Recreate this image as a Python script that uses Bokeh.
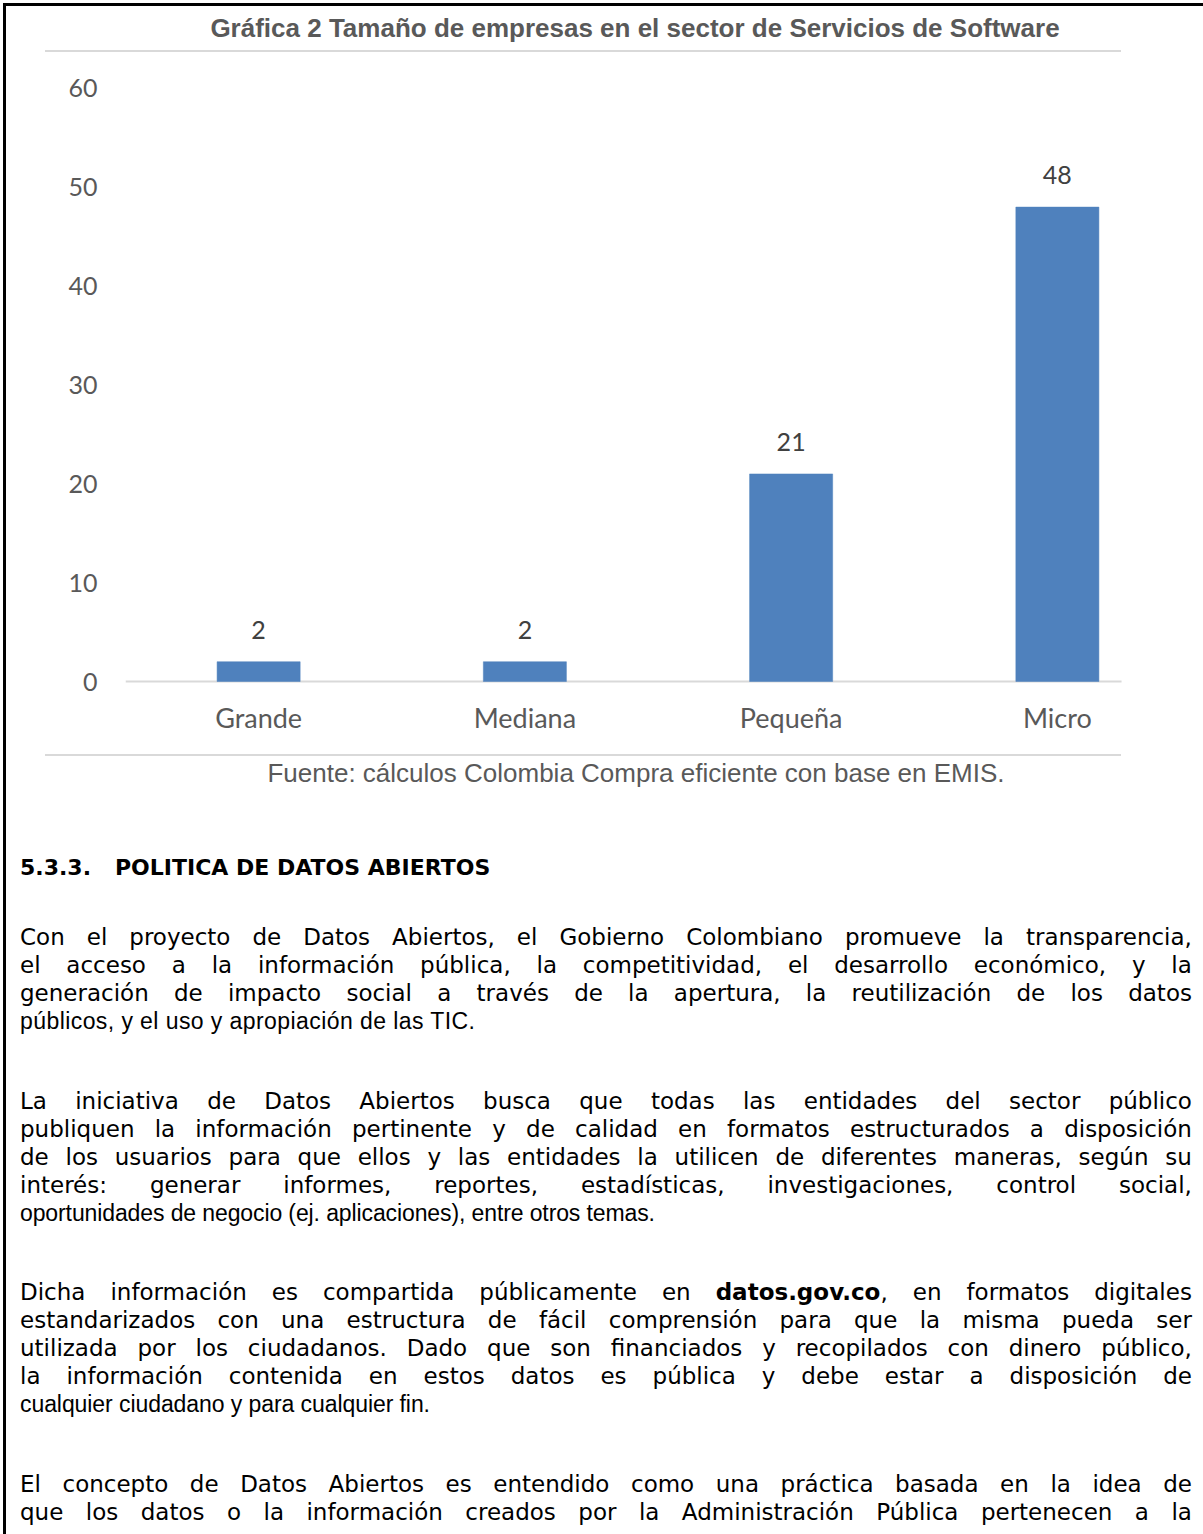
from bokeh.plotting import figure
from bokeh.models import Div, FactorRange, Range1d, FixedTicker, ColumnDataSource
from bokeh.layouts import column
from bokeh.embed import file_html
from bokeh.resources import INLINE
from bokeh.core.properties import value

# ---------------- data ----------------
categories = ["Grande", "Mediana", "Pequeña", "Micro"]
counts = [2, 2, 21, 48]
count_labels = ["2", "2", "21", "48"]
y_ticks = [0, 10, 20, 30, 40, 50, 60]

title_text = "Gráfica 2 Tamaño de empresas en el sector de Servicios de Software"
source_text = "Fuente: cálculos Colombia Compra eficiente con base en EMIS."
heading_num = "5.3.3."
heading_text = "POLITICA DE DATOS ABIERTOS"

para1 = [
    "Con el proyecto de Datos Abiertos, el Gobierno Colombiano promueve la transparencia,",
    "el acceso a la información pública, la competitividad, el desarrollo económico, y la",
    "generación de impacto social a través de la apertura, la reutilización de los datos",
    "públicos, y el uso y apropiación de las TIC.",
]
para2 = [
    "La iniciativa de Datos Abiertos busca que todas las entidades del sector público",
    "publiquen la información pertinente y de calidad en formatos estructurados a disposición",
    "de los usuarios para que ellos y las entidades la utilicen de diferentes maneras, según su",
    "interés: generar informes, reportes, estadísticas, investigaciones, control social,",
    "oportunidades de negocio (ej. aplicaciones), entre otros temas.",
]
para3 = [
    "Dicha información es compartida públicamente en datos.gov.co, en formatos digitales",
    "estandarizados con una estructura de fácil comprensión para que la misma pueda ser",
    "utilizada por los ciudadanos. Dado que son financiados y recopilados con dinero público,",
    "la información contenida en estos datos es pública y debe estar a disposición de",
    "cualquier ciudadano y para cualquier fin.",
]
para4 = [
    "El concepto de Datos Abiertos es entendido como una práctica basada en la idea de",
    "que los datos o la información creados por la Administración Pública pertenecen a la",
]
paragraphs = [para1, para2, para3, para4]
para_continues = [False, False, False, True]   # last paragraph runs past the page edge
bold_words = ["datos.gov.co"]

# ---------------- layout constants (pixels) ----------------
PAGE_W = 1200
TITLE_H = 60
FIG_H = 685
BOTTOM_H = 787
BODY_FONT = "DejaVu Sans"
BODY_SIZE = 23
LINE_H = 28
PARA_GAP = 79.5
TEXT_LEFT = 20
TEXT_W = 1172
LAST_LINE_PX = [455, 635, 410, None]   # rendered width of each paragraph's closing line

# ---------------- title block ----------------
title_div = Div(
    text=f"""
<div style="position:relative;width:{PAGE_W}px;height:{TITLE_H}px;">
  <div style="position:absolute;left:135px;width:1000px;top:13px;line-height:30px;text-align:center;font-family:'Liberation Sans';font-weight:bold;font-size:26px;color:#595959;white-space:nowrap;">{title_text}</div>
  <div style="position:absolute;left:45px;top:50px;width:1076px;height:2px;background:#D9D9D9;"></div>
</div>""",
    width=PAGE_W, height=TITLE_H, margin=0,
)

# ---------------- chart ----------------
src = ColumnDataSource(dict(cat=categories, val=counts, lab=count_labels))

p = figure(
    x_range=FactorRange(*categories),
    y_range=Range1d(-1.0118, 61.821),
    width=1190, height=FIG_H,
    min_border_left=125, min_border_right=0, min_border_top=10, min_border_bottom=54,
    output_backend="svg", toolbar_location=None, margin=0,
)
p.outline_line_color = None
p.xgrid.visible = False
p.ygrid.visible = False
p.background_fill_color = None
p.border_fill_color = None

# light-grey category baseline (from the plot's left edge to a little past the last bar)
p.segment(x0=[(categories[0], -0.5)], x1=[(categories[-1], 0.241)], y0=[0], y1=[0],
          line_color="#D9D9D9", line_width=2)

p.vbar(x="cat", top="val", bottom=0, width=0.312, source=src,
       fill_color="#4F81BD", line_color="#4F81BD", line_width=0.5)

p.text(x="cat", y="val", text="lab", source=src, y_offset=-32,
       text_font=value("Lato"), text_font_size="25px", text_color="#404040",
       text_align="center", text_baseline="middle")

for ax in (p.xaxis[0], p.yaxis[0]):
    ax.axis_line_color = None
    ax.major_tick_line_color = None
    ax.minor_tick_line_color = None
    ax.major_label_text_font = "Lato"
    ax.major_label_text_color = "#595959"
p.yaxis.major_label_text_font_size = "25px"
p.xaxis.major_label_text_font_size = "27px"
p.yaxis.ticker = FixedTicker(ticks=y_ticks)
p.yaxis.major_label_standoff = 22
p.xaxis.major_label_standoff = 3

# ---------------- text block below chart ----------------
def word_html(w):
    for b in bold_words:
        if w.startswith(b):
            return f"<b>{b}</b>{w[len(b):]}"
    return w

OFF = TITLE_H + FIG_H  # page y at top of this block
parts = []
# page border (drawn last so it sits over the chart)
parts.append('<div style="position:fixed;left:3px;top:3px;width:3000px;height:3000px;'
             'border-left:3px solid #000;border-top:3px solid #000;z-index:10;pointer-events:none;"></div>')
parts.append(f'<div style="position:absolute;left:45px;top:{754-OFF}px;width:1076px;height:2px;background:#D9D9D9;"></div>')
parts.append(f'<div style="position:absolute;left:136px;width:1000px;top:{773-OFF-15}px;line-height:30px;text-align:center;'
             f'font-family:\'Liberation Sans\';font-size:26px;color:#595959;white-space:nowrap;">{source_text}</div>')
hc = 868 - OFF
for txt, xl in ((heading_num, TEXT_LEFT), (heading_text, 115)):
    parts.append(f'<div style="position:absolute;left:{xl}px;top:{hc-15}px;line-height:30px;font-family:\'{BODY_FONT}\';'
                 f'font-weight:bold;font-size:22px;color:#000;white-space:nowrap;">{txt}</div>')

y = 937 - OFF
for para, cont, lastw in zip(paragraphs, para_continues, LAST_LINE_PX):
    for i, line in enumerate(para):
        words = line.split(" ")
        last = (i == len(para) - 1) and not cont
        if last:
            base = y + 7.9
            parts.append(
                f'<svg width="{TEXT_W}" height="{LINE_H}" style="position:absolute;left:{TEXT_LEFT}px;top:{y-LINE_H/2}px;overflow:visible;">'
                f'<text x="0" y="{LINE_H/2+7.9}" textLength="{lastw}" lengthAdjust="spacing" '
                f'font-family="{BODY_FONT}" font-size="{BODY_SIZE}" fill="#000">{line}</text></svg>')
        else:
            style = (f"position:absolute;left:{TEXT_LEFT}px;width:{TEXT_W}px;top:{y - LINE_H/2}px;height:{LINE_H}px;"
                     f"line-height:{LINE_H}px;font-family:'{BODY_FONT}';font-size:{BODY_SIZE}px;color:#000;white-space:nowrap;"
                     "display:flex;justify-content:space-between;")
            inner = "".join(f"<span>{word_html(w)}</span>" for w in words)
            parts.append(f'<div style="{style}">{inner}</div>')
        y += LINE_H
    y += PARA_GAP - LINE_H

bottom_div = Div(
    text=f'<div style="position:relative;width:{PAGE_W}px;height:{BOTTOM_H}px;">'
         f'<div style="position:absolute;left:0;top:0;width:{PAGE_W}px;height:{BOTTOM_H}px;overflow:hidden;">'
         + "".join(parts[1:]) + "</div>" + parts[0] + "</div>",
    width=PAGE_W, height=BOTTOM_H, margin=0,
)

layout = column(title_div, p, bottom_div, spacing=0)

html = file_html(layout, INLINE, title="Gráfica 2")
open("out.html", "w").write(html)
